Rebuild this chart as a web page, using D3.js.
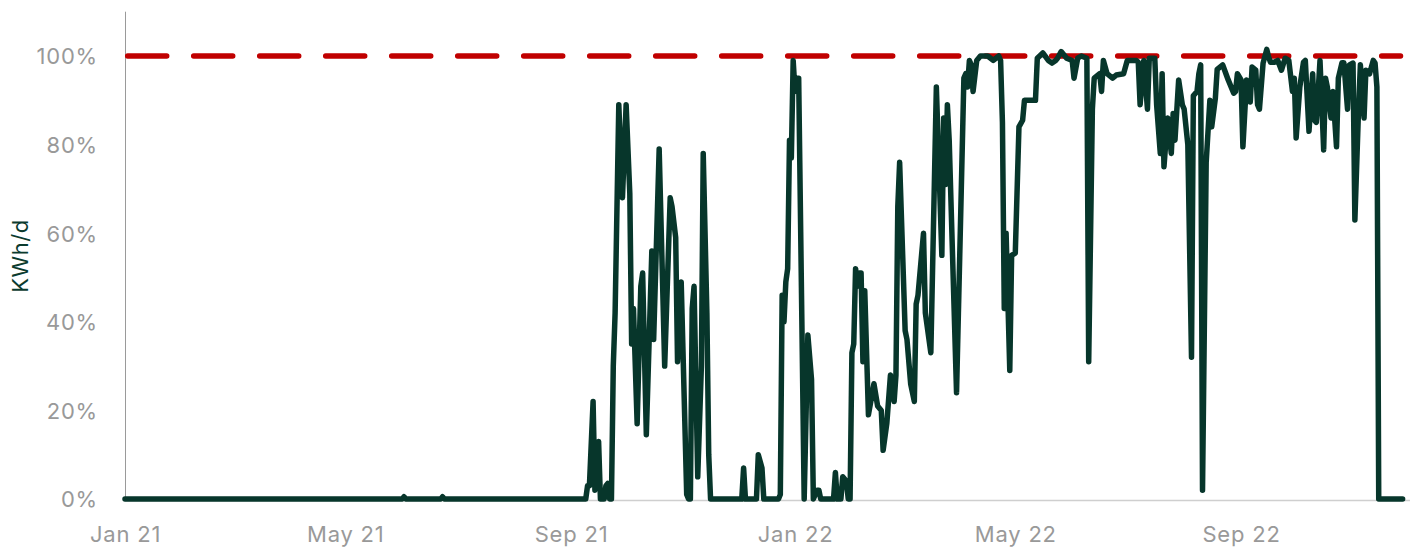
<!DOCTYPE html>
<html>
<head>
<meta charset="utf-8">
<script src="https://cdn.jsdelivr.net/npm/d3@7"></script>
<style>
  html, body { margin: 0; padding: 0; background: #fff; }
  svg { display: block; }
  .tick text { font-family: Inter, "Noto Sans", sans-serif; font-weight: 400; letter-spacing: 0.8px; }
</style>
</head>
<body>
<svg id="chart" width="1410" height="551"></svg>
<script>
// ---- DATA ----
// Days elapsed since 1 Jan 2021 for each vertex of the daily series
const dayIndex = [
  0,151,152,153,172,173,174,251,252,253,255,256,258,259,261,262,263,264,265,266,
  267,269,271,273,275,276,277,279,281,282,284,287,288,291,294,297,298,300,301,303,
  306,307,308,309,310,312,314,315,317,318,319,336,337,338,344,345,347,348,356,357,
  358,359,360,361,362,363,364,365,366,367,370,372,374,375,377,378,379,386,387,388,
  390,391,393,394,395,396,397,398,399,400,401,402,403,405,408,410,412,413,415,417,
  419,420,421,422,425,426,428,430,431,432,435,436,439,442,445,446,447,448,449,453,
  457,458,459,460,461,462,464,466,470,473,476,477,478,479,480,482,483,485,487,489,
  490,496,497,500,503,505,507,508,510,513,516,517,519,521,524,525,527,528,531,532,
  533,535,538,540,544,546,551,552,553,555,557,558,561,562,564,565,566,568,570,571,
  572,574,576,577,579,581,582,584,585,586,587,589,591,592,594,595,598,600,601,604,
  605,606,608,609,611,613,614,616,617,618,620,622,623,624,626,628,630,632,634,636,
  637,638,640,642,643,645,647,648,649,651,653,654,655,657,658,660,661,663,664,666,
  667,669,670,672,673,675,676,678,680,681,682,683,696
];
// Daily output as a share of target (%)
const share = [
  0,0,0.5,0,0,0.5,0,0,3,3,22,2,13,0,0,3,3.5,0,0,30,
  42,89,68,89,69,35,43,17,48,51,14.5,56,36,79,30,68,66,59,31,49,
  1,0,0,43,48,5,30,78,42,10,0,0,7,0,0,10,7,0,0,1,
  46,40,49,52,81,77,99,92,95,95,0,37,27,0,2,2,0,0,6,0,
  0,5,4,0,0,33,35,52,48,51,51,31,47,19,26,21,20,11,17,28,
  22,28,66,76,38,36,26,22,44,46,60,42,33,93,55,86,71,89,81,24,
  95,96,93,99,98,92,99,100,100,99,100,99,85,43,60,29,55,55.5,84,85.5,
  90,90,99.5,100.7,99,98.4,99,99.5,101,99.5,99,95,99.5,100,99.5,31,88,95,96,92,
  99,96,95,95.7,96,99,99,98.6,89,99,88,99.5,99.5,89,78,96,75,86,78,87,
  81,94.6,89,88,80,32,91,92,96,98,2,76,90,84,90.5,97,98,95.7,94.6,91.6,
  92,96,94.6,79.5,94.6,89.6,97.5,96.8,89,88,98.4,101.5,99.8,98.6,98.6,99,96.8,99.5,99,92,
  95,81.5,93,98.6,99,83,96,85.5,85,99,78.8,95,93,86,92,79.5,95,98.5,98.5,88,
  98,98.4,63,88,98,86,96.8,96,99,98.4,93,0,0
];
const targetShare = 100;
const yTicks = [0, 20, 40, 60, 80, 100];
const xTickDates = ["2021-01-01","2021-05-01","2021-09-01","2022-01-01","2022-05-01","2022-09-01"];
const yAxisLabel = "KWh/d";

// ---- CHART ----
const svg = d3.select("#chart");
const start = new Date(Date.UTC(2021, 0, 1));
const end = d3.utcDay.offset(start, 696);
const x = d3.scaleUtc().domain([start, end]).range([125, 1402.6]);
const y = d3.scaleLinear().domain([0, 110]).range([499, 11.7]);

const data = dayIndex.map((d, i) => ({ date: d3.utcDay.offset(start, d), v: share[i] }));

// x baseline
svg.append("line")
  .attr("x1", 125).attr("x2", 1410)
  .attr("y1", y(0) + 1.5).attr("y2", y(0) + 1.5)
  .attr("stroke", "#cfcfcf").attr("stroke-width", 1.5);

// left axis line
svg.append("line")
  .attr("x1", 125.5).attr("x2", 125.5)
  .attr("y1", y(110)).attr("y2", y(0))
  .attr("stroke", "#9a9a9a").attr("stroke-width", 1);

// y axis
const yAxis = d3.axisLeft(y).tickValues(yTicks).tickSize(0).tickPadding(0)
  .tickFormat(d => d + "%");
const yg = svg.append("g").attr("transform", "translate(98,0)").call(yAxis);
yg.select(".domain").remove();
yg.selectAll("text").attr("fill", "#999999").style("font-size", "22px").attr("dy", "0.36em");

// x axis
const xAxis = d3.axisBottom(x).tickValues(xTickDates.map(s => new Date(s + "T00:00:00Z")))
  .tickSize(0).tickPadding(0).tickFormat(d3.utcFormat("%b %y"));
const xg = svg.append("g").attr("transform", "translate(0,526)").call(xAxis);
xg.select(".domain").remove();
xg.selectAll("text").attr("fill", "#999999").style("font-size", "22px").attr("dy", "0.71em");

// y label
svg.append("text")
  .attr("transform", "translate(28,256) rotate(-90)")
  .attr("text-anchor", "middle")
  .attr("fill", "#0b3b2e")
  .style("font-family", "Inter, 'Noto Sans', sans-serif")
  .style("font-size", "22px")
  .style("letter-spacing", "0.5px")
  .text(yAxisLabel);

// target line
svg.append("line")
  .attr("x1", 127.7).attr("x2", 1400.5)
  .attr("y1", y(targetShare)).attr("y2", y(targetShare))
  .attr("stroke", "#c00000").attr("stroke-width", 5.5)
  .attr("stroke-linecap", "round")
  .attr("stroke-dasharray", "39,27");

// series line
const line = d3.line().x(d => x(d.date)).y(d => y(d.v)).curve(d3.curveLinear);
svg.append("path")
  .datum(data)
  .attr("d", line)
  .attr("fill", "none")
  .attr("stroke", "#07362b")
  .attr("stroke-width", 5.5)
  .attr("stroke-linejoin", "round")
  .attr("stroke-linecap", "round");
</script>
</body>
</html>
